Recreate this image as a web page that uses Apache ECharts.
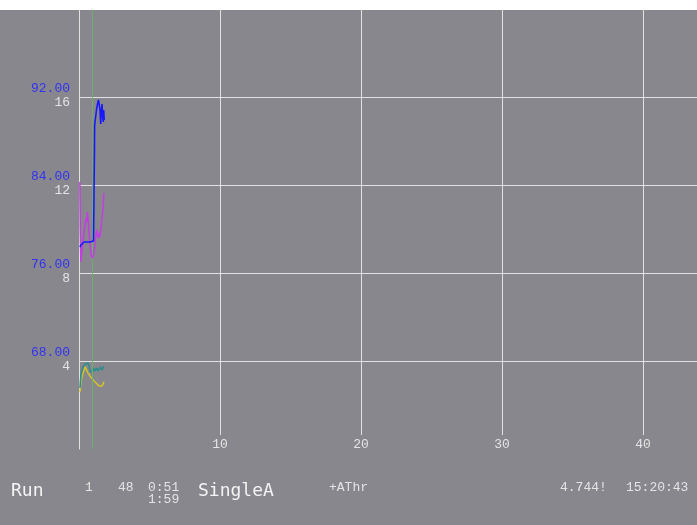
<!DOCTYPE html>
<html><head><meta charset="utf-8">
<script src="https://cdn.jsdelivr.net/npm/echarts@6/dist/echarts.min.js"></script>
<style>html,body{margin:0;padding:0;background:#fff;}#c{position:absolute;left:0;top:10px;width:697px;height:515px;}</style>
</head><body><div id="c"></div><script>
// ---- data ----
const xRange = [0, 43.83];
const xInterval = 10;
const leftRange = [60, 100];   // blue scale
const leftInterval = 8;
const rightRange = [0, 20];    // white scale
const rightInterval = 4;
const cursorX = 0.94;

const blueX = [0.07,0.14,0.21,0.35,0.50,0.64,0.78,0.92,1.03,1.06,1.09,1.11,1.17,1.24,1.31,1.38,1.44,1.49,1.54,1.58,1.63,1.67,1.72,1.75,1.79];
const blueY = [78.36,78.55,78.73,78.82,78.82,78.82,78.82,78.82,78.91,82.64,86.27,89.45,90.09,90.82,91.36,91.73,91.82,90.82,89.55,90.64,91.36,90.36,89.73,90.82,89.91];

const magentaX = [0.06,0.09,0.13,0.21,0.28,0.36,0.43,0.50,0.55,0.59,0.64,0.71,0.78,0.87,0.94,0.99,1.06,1.14,1.18,1.26,1.35,1.42,1.49,1.58,1.65,1.72,1.77];
const magentaY = [84.27,79.91,77.00,78.09,78.82,79.73,80.36,81.00,80.64,81.55,81.00,79.73,78.55,77.64,77.36,77.45,77.73,78.82,79.27,79.91,79.18,79.64,79.27,80.36,81.18,82.18,83.27];

const tealX = [0.07,0.12,0.18,0.28,0.43,0.53,0.64,0.71,0.78,0.87,0.96,1.03,1.14,1.24,1.35,1.44,1.53,1.61,1.70,1.77];
const tealY = [2.77,3.23,3.50,3.73,3.86,3.91,3.91,3.77,3.55,3.64,3.50,3.68,3.55,3.68,3.55,3.50,3.73,3.59,3.68,3.77];

const yellowX = [0.07,0.12,0.19,0.31,0.43,0.52,0.64,0.78,0.92,1.06,1.21,1.31,1.42,1.53,1.63,1.70,1.77];
const yellowY = [2.59,2.91,3.23,3.50,3.73,3.68,3.45,3.32,3.23,3.09,3.00,2.95,2.86,2.82,2.86,2.95,3.05];

const statusTexts = [
  {t:'Run', x:11, y:481.5, big:true},
  {t:'1', x:85, y:478},
  {t:'48', x:118, y:478},
  {t:'0:51', x:148, y:478},
  {t:'1:59', x:148, y:490},
  {t:'SingleA', x:198, y:481.5, big:true},
  {t:'+AThr', x:329, y:477.5},
  {t:'4.744!', x:560, y:478},
  {t:'15:20:43', x:626, y:478}
];

const pair = (xs, ys) => xs.map((x, i) => [x, ys[i]]);
const GRID_C = '#e2e2e2';
const SMALL = '13px "Liberation Mono", monospace';

const chart = echarts.init(document.getElementById('c'), null, {renderer:'canvas'});
chart.setOption({
  backgroundColor: '#88878e',
  animation: false,
  grid: [
    {left:79, right:0, top:-1, bottom:76, outerBoundsMode:'none', containLabel:false},
    {left:79, right:0, top:-1, bottom:90, outerBoundsMode:'none', containLabel:false}
  ],
  xAxis: [
    {gridIndex:0, type:'value', min:xRange[0], max:xRange[1], show:false},
    {gridIndex:1, type:'value', min:xRange[0], max:xRange[1], interval:xInterval,
     axisLine:{show:false}, axisTick:{show:false},
     splitLine:{show:true, showMinLine:false, showMaxLine:false, lineStyle:{color:GRID_C, width:1}},
     axisLabel:{show:true, showMinLabel:false, showMaxLabel:false, margin:3, color:'#e4e4e4',
       fontFamily:'"Liberation Mono", monospace', fontSize:13}}
  ],
  yAxis: [
    {gridIndex:0, type:'value', position:'left', min:leftRange[0], max:leftRange[1], interval:leftInterval,
     axisLine:{show:true, onZero:false, lineStyle:{color:GRID_C, width:1}}, axisTick:{show:false},
     splitLine:{show:true, showMinLine:false, showMaxLine:false, lineStyle:{color:GRID_C, width:1}},
     axisLabel:{showMinLabel:false, showMaxLabel:false, margin:9, color:'#3232f2',
       fontFamily:'"Liberation Mono", monospace', fontSize:13, verticalAlign:'bottom', lineHeight:12,
       padding:[0,0,2,0], formatter:v=>v.toFixed(2)}},
    {gridIndex:0, type:'value', position:'left', min:rightRange[0], max:rightRange[1], interval:rightInterval,
     axisLine:{show:false}, axisTick:{show:false}, splitLine:{show:false},
     axisLabel:{showMinLabel:false, showMaxLabel:false, margin:9, color:'#e4e4e4',
       fontFamily:'"Liberation Mono", monospace', fontSize:13, verticalAlign:'top', lineHeight:12,
       padding:[0,0,0,0]}},
    {gridIndex:1, type:'value', min:0, max:1, show:false}
  ],
  series: [
    {type:'line', xAxisIndex:1, yAxisIndex:2, data:[], silent:true},
    {type:'line', xAxisIndex:0, yAxisIndex:1, data:pair(yellowX, yellowY), symbol:'none',
     lineStyle:{color:'#d4c428', width:1.5}, z:3},
    {type:'line', xAxisIndex:0, yAxisIndex:1, data:pair(tealX, tealY), symbol:'none',
     lineStyle:{color:'#2e8e8e', width:1.6}, z:4},
    {type:'line', xAxisIndex:0, yAxisIndex:0, data:pair(magentaX, magentaY), symbol:'none',
     lineStyle:{color:'#c23ee0', width:1.5}, z:5},
    {type:'line', xAxisIndex:0, yAxisIndex:0, data:pair(blueX, blueY), symbol:'none',
     lineStyle:{color:'#1818ff', width:1.6}, z:6,
     markLine:{silent:true, symbol:['none','none'], label:{show:false},
       lineStyle:{color:'#6cae6c', width:1, type:'solid'}, data:[{xAxis:cursorX}]}}
  ],
  graphic: statusTexts.map(s => ({
    type:'text', x:s.x, y:s.y, silent:true,
    style:{text:s.t, fill:s.big ? '#f4f4f4' : '#e4e4e4',
      font: s.big ? '18px "DejaVu Sans Mono", monospace' : SMALL,
      verticalAlign:'middle', align:'left'}
  }))
});
</script></body></html>
